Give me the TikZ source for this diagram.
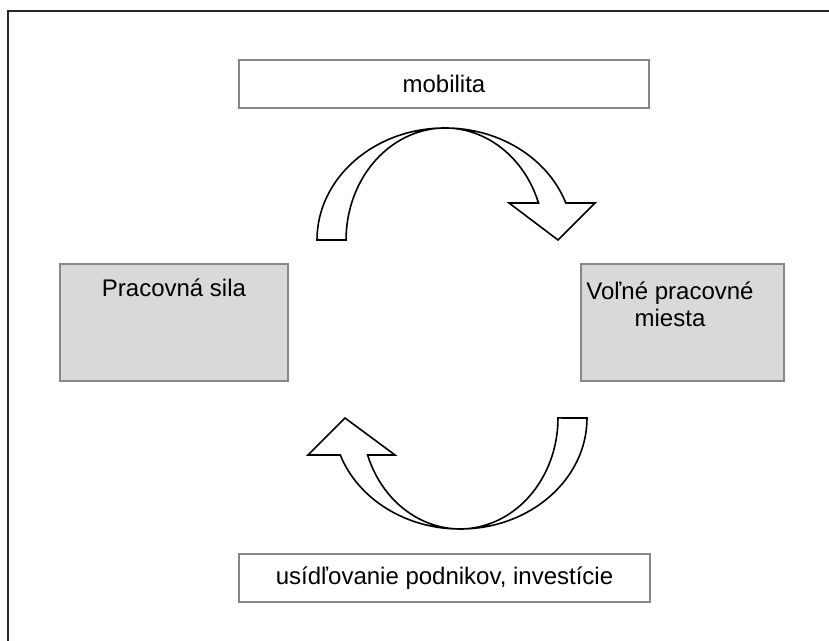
\documentclass[tikz,border=0pt]{standalone}
\usepackage{fontspec}
\setmainfont{Liberation Sans}
\usepackage{xcolor}
\usepackage{tikz}

\definecolor{boxgray}{RGB}{135,135,135}
\definecolor{sidefill}{RGB}{217,217,217}

\begin{document}
\begin{tikzpicture}[x=0.5pt,y=0.5pt,
    every node/.style={font=\fontsize{12pt}{13.5pt}\selectfont},
    labelbox/.style={draw=boxgray,line width=1pt,fill=white,minimum width=205pt,minimum height=24pt,inner sep=0pt},
    sidebox/.style={draw=boxgray,line width=1pt,fill=sidefill,minimum height=58.5pt,inner sep=0pt},
    bentarrow/.style={draw=black,line width=0.8pt,fill=white,line join=miter}]
\useasboundingbox (0,0) rectangle (829,641);
\draw[line width=1pt,draw=black!85] (8,0) -- (8,630) -- (829,630);
% label boxes
\node[labelbox] (mob) at (444,557) {mobilita};
\node[labelbox,minimum width=205.5pt] (usid) at (444.5,63) {usídľovanie podnikov, investície};
% side boxes
\node[sidebox,minimum width=114pt] (prac) at (174,318.5) {};
\node[sidebox,minimum width=101.5pt] (voln) at (682.5,318.5) {};
\node[anchor=base] (pracText) at (174,344) {Pracovná sila};
\node[anchor=north,align=center,inner sep=0pt] (volnText) at (670,359.5) {Voľné pracovné\\miesta};
% curved arrows
\draw[bentarrow] (317,401) arc[start angle=180,end angle=19.3,x radius=64pt,y radius=56pt]
    -- (595,438) -- (558,401) -- (509,438) -- (538.5,438)
    arc[start angle=19.3,end angle=180,x radius=49.5pt,y radius=56pt] -- cycle;
\draw[bentarrow] (587,223) arc[start angle=0,end angle=-160.5,x radius=63.5pt,y radius=55.5pt]
    -- (308,186) -- (345,223) -- (395,186) -- (367.6,186)
    arc[start angle=-160.5,end angle=0,x radius=49pt,y radius=55.5pt] -- cycle;
\end{tikzpicture}
\end{document}
